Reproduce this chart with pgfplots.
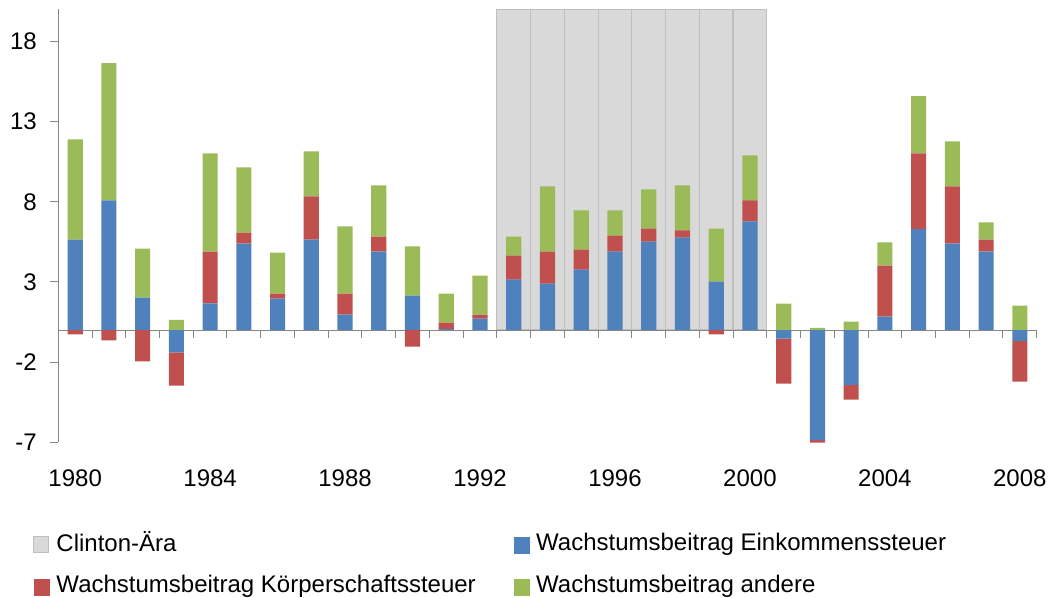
\documentclass[border=0pt]{standalone}
\usepackage{pgfplots}
\pgfplotsset{compat=1.18}
\usepackage{pgfplotstable}
\usepackage{fontspec}
\setmainfont{Liberation Sans}
\definecolor{cblue}{HTML}{4F81BD}
\definecolor{cred}{HTML}{C0504D}
\definecolor{cgreen}{HTML}{9BBB59}
\definecolor{cfill}{HTML}{D9D9D9}
\definecolor{cedge}{HTML}{BFBFBF}
\definecolor{caxis}{HTML}{868686}

% idx year blue(Einkommensteuer) red(Koerperschaftsteuer) green(andere)
\pgfplotstableread{
idx year blue red green
0 1980 5.64 -0.27 6.25
1 1981 8.08 -0.65 8.56
2 1982 2.02 -1.96 3.06
3 1983 -1.40 -2.06 0.64
4 1984 1.66 3.23 6.13
5 1985 5.39 0.69 4.06
6 1986 1.96 0.31 2.56
7 1987 5.64 2.69 2.81
8 1988 0.96 1.31 4.19
9 1989 4.89 0.94 3.19
10 1990 2.14 -1.04 3.07
11 1991 0.06 0.40 1.81
12 1992 0.71 0.25 2.43
13 1993 3.14 1.50 1.19
14 1994 2.89 2.00 4.07
15 1995 3.77 1.25 2.44
16 1996 4.89 1.00 1.57
17 1997 5.52 0.81 2.44
18 1998 5.77 0.44 2.81
19 1999 3.02 -0.27 3.31
20 2000 6.77 1.31 2.81
21 2001 -0.54 -2.80 1.64
22 2002 -6.86 -0.16 0.14
23 2003 -3.42 -0.92 0.52
24 2004 0.83 3.19 1.44
25 2005 6.29 4.73 3.56
26 2006 5.39 3.57 2.81
27 2007 4.89 0.75 1.07
28 2008 -0.67 -2.54 1.52
}\data

\pgfplotstableread{
idx val
13 20
14 20
15 20
16 20
17 20
18 20
19 20
20 20
}\clinton

\pgfplotsset{
  base/.style={scale only axis, width=978.4bp, height=433bp,
    xmin=-0.5, xmax=28.5, ymin=-7, ymax=20,
    at={(0,0)}, anchor=south west,
    font=\fontsize{24bp}{29bp}\selectfont},
}

\begin{document}
\begin{tikzpicture}
\path[use as bounding box] (-58.3bp,-155.7bp) rectangle (994.7bp,442.3bp);
% background: Clinton era, axes, labels, legend
\begin{axis}[base,
  axis y line*=left, axis x line*=bottom,
  x axis line style={draw=none},
  y axis line style={caxis, line width=1bp},
  xtick={0,4,...,28},
  xticklabels={1980,1984,1988,1992,1996,2000,2004,2008},
  x tick style={draw=none},
  ytick={-7,-2,3,8,13,18},
  yticklabels={-7,-2,3,8,13,18},
  y tick style={caxis, line width=1bp},
  tick align=outside, major tick length=8bp,
  xticklabel style={yshift=-16bp},
  yticklabel style={xshift=-10bp},
  legend columns=2,
  legend cell align=left,
  legend style={at={(0,0)}, anchor=north west, xshift=-25bp, yshift=-87bp,
    draw=none, fill=none, inner sep=0pt, row sep=18bp,
    /tikz/every odd column/.append style={column sep=5bp},
    /tikz/every even column/.append style={column sep=36bp}},
  legend entries={Clinton-Ära, Wachstumsbeitrag Einkommenssteuer, Wachstumsbeitrag Körperschaftssteuer, Wachstumsbeitrag andere},
]
\addplot[ybar, bar width=1, fill=cfill, draw=cedge, line width=1.2bp, forget plot]
  table[x=idx, y=val] {\clinton};
\addlegendimage{legend image code/.code={\filldraw[fill=cfill, draw=cedge, line width=1bp] (0bp,-10.5bp) rectangle (15bp,5.5bp);}}
\addlegendimage{legend image code/.code={\fill[cblue] (0bp,-10.5bp) rectangle (15bp,5.5bp);}}
\addlegendimage{legend image code/.code={\fill[cred] (0bp,-10.5bp) rectangle (15bp,5.5bp);}}
\addlegendimage{legend image code/.code={\fill[cgreen] (0bp,-10.5bp) rectangle (15bp,5.5bp);}}
\end{axis}
% positive contributions
\begin{axis}[base, hide axis, ybar stacked, bar width=0.45]
\addplot[fill=cblue, draw=none] table[x=idx, y expr={max(\thisrow{blue},0)}] {\data};
\addplot[fill=cred, draw=none] table[x=idx, y expr={max(\thisrow{red},0)}] {\data};
\addplot[fill=cgreen, draw=none] table[x=idx, y expr={max(\thisrow{green},0)}] {\data};
\end{axis}
% negative contributions and zero line
\begin{axis}[base, hide axis, ybar stacked, bar width=0.45, clip=false]
\addplot[fill=cblue, draw=none] table[x=idx, y expr={min(\thisrow{blue},0)}] {\data};
\addplot[fill=cred, draw=none] table[x=idx, y expr={min(\thisrow{red},0)}] {\data};
\draw[caxis, line width=1bp] (axis cs:-0.5,0) -- (axis cs:28.5,0);
\pgfplotsinvokeforeach{-0.5,0.5,...,28.5}{\draw[caxis, line width=1bp] (axis cs:#1,0) -- ([yshift=-8bp]axis cs:#1,0);}
\end{axis}
\end{tikzpicture}
\end{document}
